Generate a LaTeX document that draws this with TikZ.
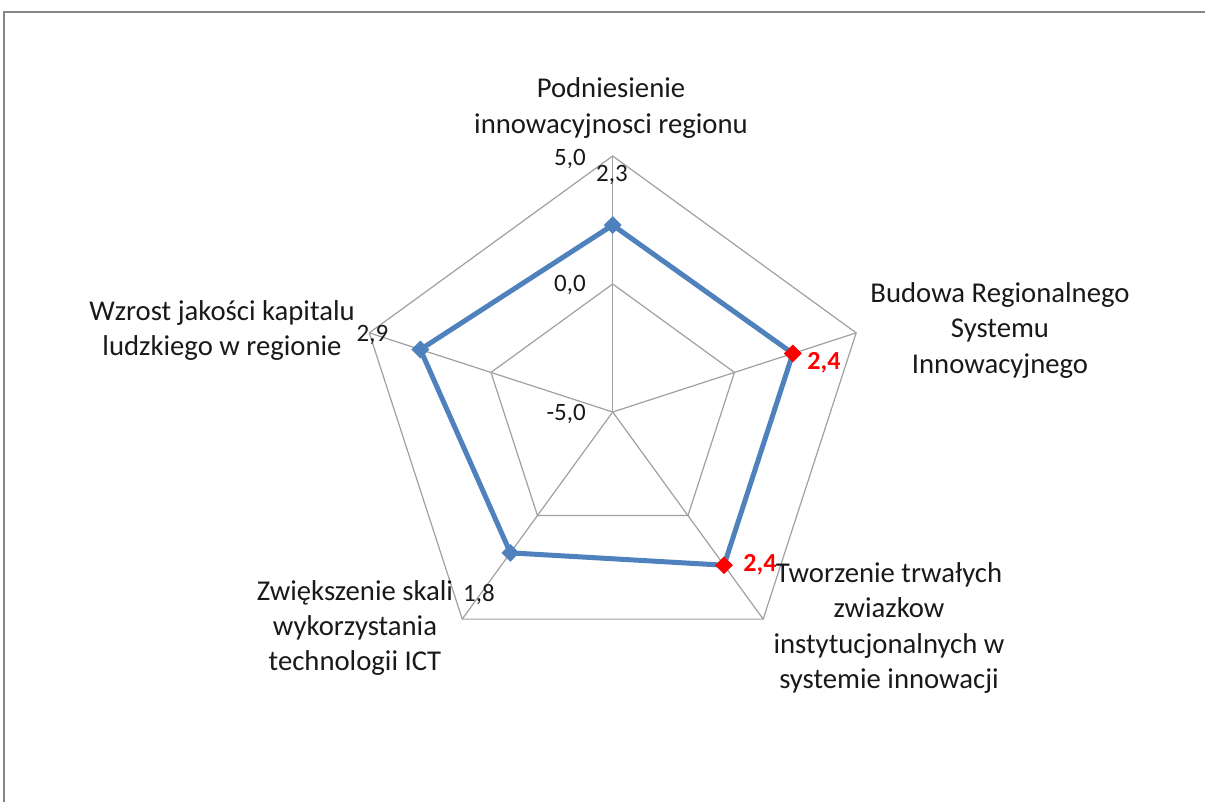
\documentclass[tikz,border=0pt]{standalone}
\usepackage{fontspec}
\setmainfont{Carlito}
\usetikzlibrary{calc,shapes.geometric}
\definecolor{serblue}{RGB}{79,129,189}
\definecolor{gridgray}{RGB}{160,160,160}
\definecolor{framegray}{RGB}{134,134,134}
\begin{document}
\begin{tikzpicture}[x=1pt,y=1pt,
  cat/.style={align=center,font=\fontsize{28.7}{35.3}\selectfont,text=black!90,inner sep=0pt},
  ticklab/.style={font=\fontsize{25}{29}\selectfont,text=black!90,inner sep=0pt},
  redlab/.style={font=\fontsize{26}{30}\selectfont\bfseries,text=red,inner sep=0pt},
  gridline/.style={draw=gridgray,line width=1.2pt},
  series/.style={draw=serblue,line width=5pt,line join=round},
  mkblue/.style={diamond,fill=serblue,minimum size=18pt,inner sep=0pt},
  mkred/.style={diamond,fill=red,minimum size=18pt,inner sep=0pt}]
\useasboundingbox (0,0) rectangle (1205,802);
\clip (0,0) rectangle (1205,802);
% frame
\draw[framegray,line width=2.5pt] (1300,790) -- (4,790) -- (4,-100);
% grid
\coordinate (C) at (612.7,390);
\foreach \i/\a in {1/90,2/18,3/-54,4/-126,5/162}{
  \coordinate (o\i) at ($(C)+(\a:256)$);
  \coordinate (m\i) at ($(C)+(\a:128)$);
}
\draw[gridline] (o1)--(o2)--(o3)--(o4)--(o5)--cycle;
\draw[gridline] (m1)--(m2)--(m3)--(m4)--(m5)--cycle;
\foreach \i in {1,...,5}{\draw[gridline] (C)--(o\i);}
% data points
\coordinate (d1) at ($(C)+(90:186.9)$);
\coordinate (d2) at ($(C)+(18:189.4)$);
\coordinate (d3) at ($(C)+(-54:189.4)$);
\coordinate (d4) at ($(C)+(-126:174.1)$);
\coordinate (d5) at ($(C)+(162:202.2)$);
\draw[series] (d1)--(d2)--(d3)--(d4)--(d5)--cycle;
\node[mkblue] (k1) at (d1) {};
\node[mkred] (k2) at (d2) {};
\node[mkred] (k3) at (d3) {};
\node[mkblue] (k4) at (d4) {};
\node[mkblue] (k5) at (d5) {};
% axis tick labels
\node[ticklab,anchor=east] (t5) at (586,643) {5,0};
\node[ticklab,anchor=east] (t0) at (586,517.5) {0,0};
\node[ticklab,anchor=east] (tm5) at (586,388) {-5,0};
% data labels
\node[ticklab] (l1) at (612,627) {2,3};
\node[redlab] (l2) at (824,439) {2,4};
\node[redlab] (l3) at (760,237) {2,4};
\node[ticklab] (l4) at (479,207) {1,8};
\node[ticklab] (l5) at (372.5,467) {2,9};
% category labels
\node[cat] (c1) at (611,694) {Podniesienie\\innowacyjnosci regionu};
\node[cat] (c2) at (1000,471.5) {Budowa Regionalnego\\Systemu\\Innowacyjnego};
\node[cat] (c3) at (889,174) {Tworzenie trwałych\\zwiazkow\\instytucjonalnych w\\systemie innowacji};
\node[cat] (c4) at (222,471.5) {Wzrost jakości kapitalu\\ludzkiego w regionie};
\node[cat] (c5) at (355,174) {Zwiększenie skali\\wykorzystania\\technologii ICT};
\end{tikzpicture}
\end{document}
